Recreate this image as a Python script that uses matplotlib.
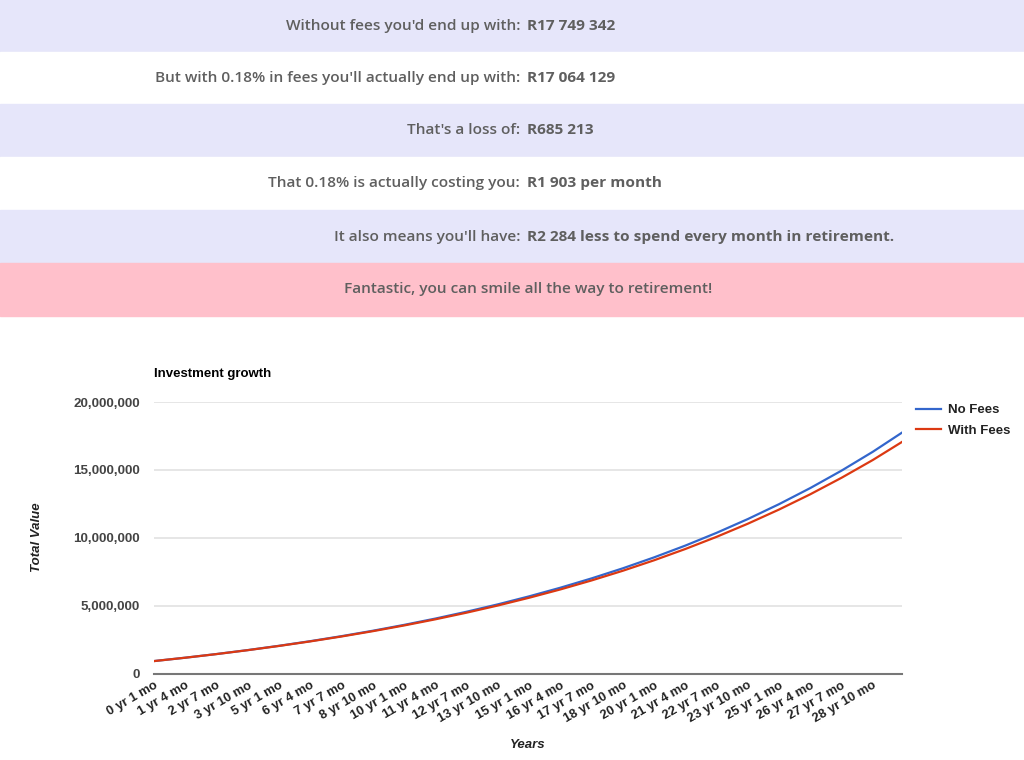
import matplotlib
matplotlib.use('Agg')
import matplotlib.pyplot as plt
from matplotlib.patches import Rectangle
from matplotlib.ticker import FuncFormatter

# 数据
months = [1, 16, 31, 46, 61, 76, 91, 106, 121, 136, 151, 166, 181,
          196, 211, 226, 241, 256, 271, 286, 301, 316, 331, 346, 360]
no_fees = [950000, 1199000, 1468000, 1759000, 2074000, 2414000, 2782000,
           3180000, 3610000, 4074000, 4577000, 5120000, 5708000, 6343000,
           7029000, 7771000, 8574000, 9441000, 10379000, 11393000, 12489000,
           13674000, 14956000, 16341000, 17749342]
with_fees = [950000, 1197000, 1464000, 1752000, 2063000, 2397000, 2758000,
             3148000, 3568000, 4020000, 4509000, 5036000, 5605000, 6217000,
             6879000, 7591000, 8361000, 9191000, 10085000, 11051000, 12093000,
             13217000, 14430000, 15736000, 17064129]
tick_months = [1, 16, 31, 46, 61, 76, 91, 106, 121, 136, 151, 166, 181,
               196, 211, 226, 241, 256, 271, 286, 301, 316, 331, 346]
tick_labels = ['0 yr 1 mo', '1 yr 4 mo', '2 yr 7 mo', '3 yr 10 mo', '5 yr 1 mo',
               '6 yr 4 mo', '7 yr 7 mo', '8 yr 10 mo', '10 yr 1 mo', '11 yr 4 mo',
               '12 yr 7 mo', '13 yr 10 mo', '15 yr 1 mo', '16 yr 4 mo', '17 yr 7 mo',
               '18 yr 10 mo', '20 yr 1 mo', '21 yr 4 mo', '22 yr 7 mo', '23 yr 10 mo',
               '25 yr 1 mo', '26 yr 4 mo', '27 yr 7 mo', '28 yr 10 mo']

# 顶部说明条
row_labels = ["Without fees you'd end up with:",
              "But with 0.18% in fees you'll actually end up with:",
              "That's a loss of:",
              "That 0.18% is actually costing you:",
              "It also means you'll have:"]
row_values = ["R17 749 342", "R17 064 129", "R685 213", "R1 903 per month",
              "R2 284 less to spend every month in retirement."]
row_colors = ['#e6e6fa', '#ffffff', '#e6e6fa', '#ffffff', '#e6e6fa']
message = "Fantastic, you can smile all the way to retirement!"

W, H = 1024, 760
fig = plt.figure(figsize=(W / 100, H / 100), dpi=100)

def fy(px):
    return 1 - px / H

row_edges = [0, 52, 104, 157, 210, 263, 316]
txt_color = '#5f5f5f'
for i in range(6):
    top, bot = row_edges[i], row_edges[i + 1]
    color = row_colors[i] if i < 5 else '#ffc0cb'
    fig.patches.append(Rectangle((0, fy(bot)), 1, (bot - top) / H,
                                 transform=fig.transFigure, color=color, zorder=0))
    yc = fy((top + bot) / 2)
    if i < 5:
        fig.text(520 / W, yc, row_labels[i], ha='right', va='center', fontsize=11.1,
                 family='Open Sans', weight='semibold', color=txt_color)
        fig.text(527 / W, yc, row_values[i], ha='left', va='center', fontsize=11.1,
                 family='Open Sans', weight='bold', color=txt_color)
    else:
        fig.text(528 / W, yc, message, ha='center', va='center', fontsize=11.1,
                 family='Open Sans', weight='semibold', color=txt_color)

# 图表
left, right, top, bottom = 154, 902, 402, 674
ax = fig.add_axes((left / W, fy(bottom), (right - left) / W, (bottom - top) / H))
ax.plot(months, no_fees, color='#3366cc', lw=1.6, label='No Fees', zorder=3)
ax.plot(months, with_fees, color='#dc3912', lw=1.6, label='With Fees', zorder=3)
ax.set_xlim(1, 360)
ax.set_ylim(0, 20000000)
ax.set_yticks([0, 5000000, 10000000, 15000000, 20000000])
ax.yaxis.set_major_formatter(FuncFormatter(lambda v, p: f'{int(v):,}'))
ax.grid(axis='y', color='#e2e2e2', lw=1.2)
ax.set_axisbelow(True)
for s in ['top', 'right', 'left']:
    ax.spines[s].set_visible(False)
ax.spines['bottom'].set_color('#777777')
ax.spines['bottom'].set_linewidth(1.5)
ax.spines['bottom'].set_zorder(4)
ax.tick_params(axis='y', length=0, pad=10, labelsize=9.6, labelcolor='#444444')
ax.tick_params(axis='x', length=0, pad=4, labelsize=9.3, labelcolor='#222222')
for lab in ax.get_yticklabels():
    lab.set_family('Liberation Sans')
    lab.set_weight('bold')
ax.set_xticks(tick_months)
ax.set_xticklabels(tick_labels, rotation=30, ha='right', rotation_mode='anchor',
                   family='Liberation Sans', weight='bold')

fig.text(154 / W, fy(374), 'Investment growth', ha='left', va='center', fontsize=9.5,
         family='Liberation Sans', weight='bold', color='#000000')
fig.text(528 / W, fy(745), 'Years', ha='center', va='center', fontsize=9.5,
         family='Liberation Sans', weight='bold', style='italic', color='#222222')
fig.text(37 / W, fy(537), 'Total Value', ha='center', va='center', fontsize=9.5,
         rotation=90, family='Liberation Sans', weight='bold', style='italic',
         color='#222222')

leg = ax.legend(loc='upper left', bbox_to_anchor=(908 / W, fy(396)),
                bbox_transform=fig.transFigure, frameon=False, handlelength=1.9,
                handletextpad=0.5, labelspacing=0.65, borderaxespad=0.2,
                prop={'family': 'Liberation Sans', 'weight': 'bold', 'size': 9.5})
for t in leg.get_texts():
    t.set_color('#222222')

fig.savefig('out.png', dpi=100)
